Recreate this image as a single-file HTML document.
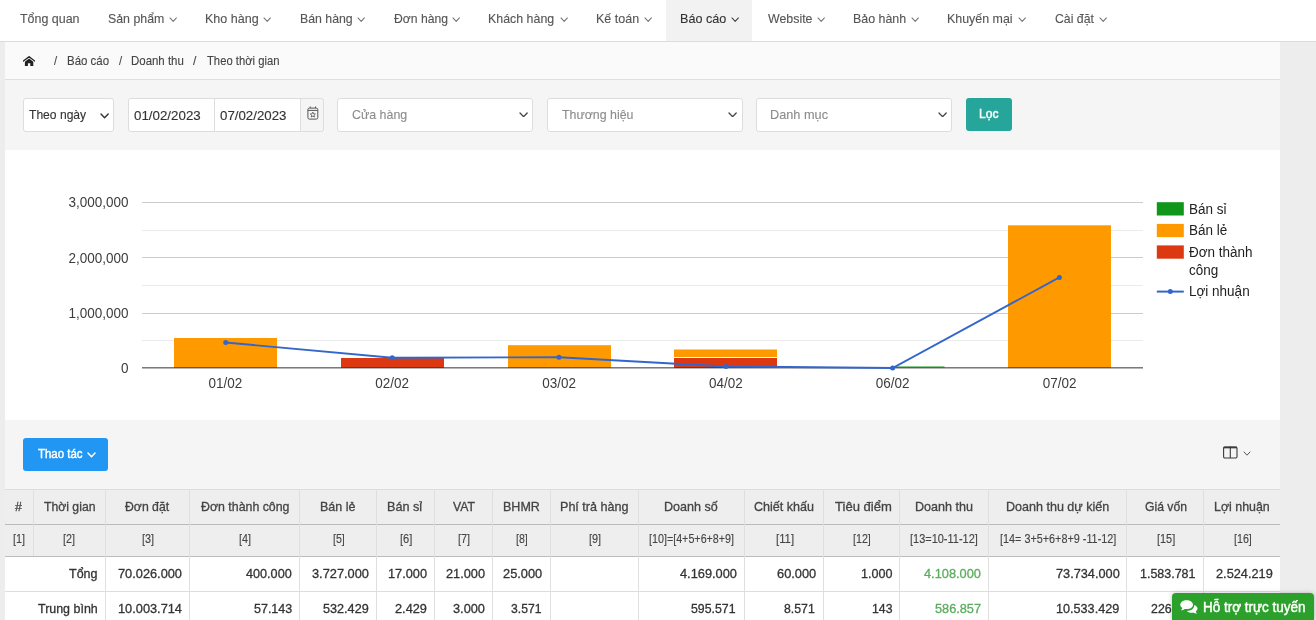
<!DOCTYPE html>
<html lang="vi">
<head>
<meta charset="utf-8">
<title>Báo cáo doanh thu theo thời gian</title>
<style>
*{box-sizing:border-box;margin:0;padding:0}
html,body{width:1316px;height:620px;overflow:hidden}
body{background:#ededed;font-family:"Liberation Sans",sans-serif;font-size:13px;color:#333;position:relative}
.abs{position:absolute}
i{display:block}
.t{-webkit-text-stroke:0.12px currentColor;position:absolute;white-space:nowrap;line-height:20px;transform-origin:0 0;display:block}
.m{-webkit-text-stroke:0.3px currentColor}
.m2{-webkit-text-stroke:0.45px currentColor}
#nav{position:absolute;left:0;top:0;width:1316px;height:42px;background:#fff;border-bottom:1px solid #dcdcdc}
#nav .act{position:absolute;left:666px;top:0;width:86px;height:41px;background:#f2f2f2}
#bc{position:absolute;left:5px;top:42px;width:1275px;height:38px;background:#fafafa;border-bottom:1px solid #e0e0e0}
#flt::before{content:"";position:absolute;left:5px;top:80px;width:1275px;height:70px;background:#f5f5f5}
.inp{position:absolute;background:#fff;border:1px solid #ddd;border-radius:3px;height:34px}
.addon{background:#f5f5f5}
.btn{position:absolute;border-radius:3px}
.teal{background:#26a69a}
.blue{background:#2196f3}
#chart::before{content:"";position:absolute;left:5px;top:150px;width:1275px;height:270px;background:#fff}
#chart svg{position:absolute;left:5px;top:150px}
#tb::before{content:"";position:absolute;left:5px;top:420px;width:1275px;height:70px;background:#f5f5f5}
#tbl::before{content:"";position:absolute;left:5px;top:490px;width:1275px;height:130px;background:#fff}
.thead{position:absolute;left:5px;top:490px;width:1275px;height:66px;background:#eeeeee}
.hl{position:absolute;left:5px;width:1275px;height:1px}
.vl{position:absolute;top:490px;width:1px;height:130px;background:#dfdfdf}
#sup{position:absolute;left:1172px;top:593px;width:142px;height:27px;background:#2ba02b;border-radius:4px 4px 0 0;box-shadow:0 0 4px rgba(0,0,0,.25)}

</style>
</head>
<body>
<div id="nav"><div class="act"></div></div>
<div id="navtxt">
<span class="t" style="left:20.00px;top:9px;font-size:13px;color:#555;transform:scaleX(0.9567)">Tổng quan</span>
<span class="t" style="left:108.25px;top:9px;font-size:13px;color:#555;transform:scaleX(0.9498)">Sản phẩm</span>
<span class="t" style="left:204.79px;top:9px;font-size:13px;color:#555;transform:scaleX(0.9645)">Kho hàng</span>
<span class="t" style="left:299.55px;top:9px;font-size:13px;color:#555;transform:scaleX(0.9461)">Bán hàng</span>
<span class="t" style="left:393.75px;top:9px;font-size:13px;color:#555;transform:scaleX(0.9357)">Đơn hàng</span>
<span class="t" style="left:488.30px;top:9px;font-size:13px;color:#555;transform:scaleX(0.9536)">Khách hàng</span>
<span class="t" style="left:595.54px;top:9px;font-size:13px;color:#555;transform:scaleX(0.9636)">Kế toán</span>
<span class="t" style="left:679.53px;top:9px;font-size:13px;color:#333;transform:scaleX(0.9683)">Báo cáo</span>
<span class="t" style="left:767.50px;top:9px;font-size:13px;color:#555;transform:scaleX(0.9517)">Website</span>
<span class="t" style="left:852.79px;top:9px;font-size:13px;color:#555;transform:scaleX(0.9553)">Bảo hành</span>
<span class="t" style="left:946.79px;top:9px;font-size:13px;color:#555;transform:scaleX(0.9556)">Khuyến mại</span>
<span class="t" style="left:1054.50px;top:9px;font-size:13px;color:#555;transform:scaleX(0.9440)">Cài đặt</span>
<svg class="abs" style="left:168.8px;top:16.6px" width="8.4" height="5.4" viewBox="-1 -1 8.4 5.4"><path d="M0 0 L3.2 3.4 L6.4 0" fill="none" stroke="#777" stroke-width="1.1" stroke-linecap="round" stroke-linejoin="round"/></svg>
<svg class="abs" style="left:263.3px;top:16.6px" width="8.4" height="5.4" viewBox="-1 -1 8.4 5.4"><path d="M0 0 L3.2 3.4 L6.4 0" fill="none" stroke="#777" stroke-width="1.1" stroke-linecap="round" stroke-linejoin="round"/></svg>
<svg class="abs" style="left:357.3px;top:16.6px" width="8.4" height="5.4" viewBox="-1 -1 8.4 5.4"><path d="M0 0 L3.2 3.4 L6.4 0" fill="none" stroke="#777" stroke-width="1.1" stroke-linecap="round" stroke-linejoin="round"/></svg>
<svg class="abs" style="left:452.05px;top:16.6px" width="8.4" height="5.4" viewBox="-1 -1 8.4 5.4"><path d="M0 0 L3.2 3.4 L6.4 0" fill="none" stroke="#777" stroke-width="1.1" stroke-linecap="round" stroke-linejoin="round"/></svg>
<svg class="abs" style="left:559.55px;top:16.6px" width="8.4" height="5.4" viewBox="-1 -1 8.4 5.4"><path d="M0 0 L3.2 3.4 L6.4 0" fill="none" stroke="#777" stroke-width="1.1" stroke-linecap="round" stroke-linejoin="round"/></svg>
<svg class="abs" style="left:643.8px;top:16.6px" width="8.4" height="5.4" viewBox="-1 -1 8.4 5.4"><path d="M0 0 L3.2 3.4 L6.4 0" fill="none" stroke="#777" stroke-width="1.1" stroke-linecap="round" stroke-linejoin="round"/></svg>
<svg class="abs" style="left:730.55px;top:16.6px" width="8.4" height="5.4" viewBox="-1 -1 8.4 5.4"><path d="M0 0 L3.2 3.4 L6.4 0" fill="none" stroke="#444" stroke-width="1.1" stroke-linecap="round" stroke-linejoin="round"/></svg>
<svg class="abs" style="left:816.8px;top:16.6px" width="8.4" height="5.4" viewBox="-1 -1 8.4 5.4"><path d="M0 0 L3.2 3.4 L6.4 0" fill="none" stroke="#777" stroke-width="1.1" stroke-linecap="round" stroke-linejoin="round"/></svg>
<svg class="abs" style="left:910.8px;top:16.6px" width="8.4" height="5.4" viewBox="-1 -1 8.4 5.4"><path d="M0 0 L3.2 3.4 L6.4 0" fill="none" stroke="#777" stroke-width="1.1" stroke-linecap="round" stroke-linejoin="round"/></svg>
<svg class="abs" style="left:1017.55px;top:16.6px" width="8.4" height="5.4" viewBox="-1 -1 8.4 5.4"><path d="M0 0 L3.2 3.4 L6.4 0" fill="none" stroke="#777" stroke-width="1.1" stroke-linecap="round" stroke-linejoin="round"/></svg>
<svg class="abs" style="left:1098.8px;top:16.6px" width="8.4" height="5.4" viewBox="-1 -1 8.4 5.4"><path d="M0 0 L3.2 3.4 L6.4 0" fill="none" stroke="#777" stroke-width="1.1" stroke-linecap="round" stroke-linejoin="round"/></svg>
</div>
<div id="bc"></div>
<div id="bctxt">
<svg class="abs" style="left:23px;top:55.5px" width="12.4" height="10.4" viewBox="0 0 12.4 10.4"><path d="M0.4 5.1 L6.1 0.7 L11.8 5.1" fill="none" stroke="#222" stroke-width="1.3" stroke-linecap="round" stroke-linejoin="miter"/><path d="M1.9 5.7 L6.1 2.4 L10.3 5.7 V10.2 H7.3 V7.3 H4.9 V10.2 H1.9 Z" fill="#222"/></svg>
<span class="t" style="left:54.25px;top:51px;font-size:13px;color:#444;transform:scaleX(0.8750)">/</span>
<span class="t" style="left:66.62px;top:51px;font-size:13px;color:#444;transform:scaleX(0.8822)">Báo cáo</span>
<span class="t" style="left:118.50px;top:51px;font-size:13px;color:#444;transform:scaleX(0.8750)">/</span>
<span class="t" style="left:131.12px;top:51px;font-size:13px;color:#444;transform:scaleX(0.8807)">Doanh thu</span>
<span class="t" style="left:193.00px;top:51px;font-size:13px;color:#444;transform:scaleX(0.9375)">/</span>
<span class="t" style="left:207.00px;top:51px;font-size:13px;color:#444;transform:scaleX(0.8657)">Theo thời gian</span>
</div>
<div id="flt">
<div class="inp" style="left:23px;top:98px;width:91px"></div>
<div class="inp" style="left:128px;top:98px;width:87px;border-radius:3px 0 0 3px"></div>
<div class="inp" style="left:214px;top:98px;width:87px;border-radius:0"></div>
<div class="inp addon" style="left:300px;top:98px;width:24px;border-radius:0 3px 3px 0"></div>
<div class="inp" style="left:337px;top:98px;width:196px"></div>
<div class="inp" style="left:547px;top:98px;width:196px"></div>
<div class="inp" style="left:756px;top:98px;width:196px"></div>
<div class="btn teal" style="left:966px;top:98px;width:46px;height:33px"></div>
<svg class="abs" style="left:306.6px;top:106.2px" width="12" height="14.5" viewBox="0 0 12 14.5"><rect x="0.9" y="2.1" width="9.9" height="11" rx="1.5" fill="none" stroke="#555" stroke-width="1"/><path d="M0.9 4.4 H10.8" stroke="#555" stroke-width="1"/><path d="M3.2 0.5 V2.1 M8.5 0.5 V2.1" stroke="#555" stroke-width="1"/><path d="M5.85 6.1 L6.6 7.8 L8.4 8 L7.1 9.2 L7.45 11 L5.85 10.1 L4.25 11 L4.6 9.2 L3.3 8 L5.1 7.8 Z" fill="none" stroke="#555" stroke-width="0.85" stroke-linejoin="round"/></svg>
<svg class="abs" style="left:99.6px;top:112.8px" width="9.2" height="5.8" viewBox="-1 -1 9.2 5.8"><path d="M0 0 L3.6 3.8 L7.2 0" fill="none" stroke="#333" stroke-width="1.4" stroke-linecap="round" stroke-linejoin="round"/></svg>
<svg class="abs" style="left:519px;top:111.6px" width="9.2" height="5.7" viewBox="-1 -1 9.2 5.7"><path d="M0 0 L3.6 3.7 L7.2 0" fill="none" stroke="#444" stroke-width="1.3" stroke-linecap="round" stroke-linejoin="round"/></svg>
<svg class="abs" style="left:728.3px;top:111.6px" width="9.2" height="5.7" viewBox="-1 -1 9.2 5.7"><path d="M0 0 L3.6 3.7 L7.2 0" fill="none" stroke="#444" stroke-width="1.3" stroke-linecap="round" stroke-linejoin="round"/></svg>
<svg class="abs" style="left:937.8px;top:111.6px" width="9.2" height="5.7" viewBox="-1 -1 9.2 5.7"><path d="M0 0 L3.6 3.7 L7.2 0" fill="none" stroke="#444" stroke-width="1.3" stroke-linecap="round" stroke-linejoin="round"/></svg>
<span class="t" style="left:29.00px;top:105px;font-size:13px;color:#333;transform:scaleX(0.9300)">Theo ngày</span>
<span class="t" style="left:133.50px;top:106px;font-size:13px;color:#333;transform:scaleX(1.0257)">01/02/2023</span>
<span class="t" style="left:220.00px;top:106px;font-size:13px;color:#333;transform:scaleX(1.0218)">07/02/2023</span>
<span class="t" style="left:352.00px;top:105px;font-size:13px;color:#8c8c8c;transform:scaleX(0.9545)">Cửa hàng</span>
<span class="t" style="left:562.00px;top:105px;font-size:13px;color:#8c8c8c;transform:scaleX(0.9523)">Thương hiệu</span>
<span class="t" style="left:770.27px;top:105px;font-size:13px;color:#8c8c8c;transform:scaleX(0.9787)">Danh mục</span>
<span class="t m2" style="left:978.67px;top:104px;font-size:13px;color:#fff;transform:scaleX(0.9286)">Lọc</span>
</div>
<div id="chart">
<svg width="1275" height="270" viewBox="5 150 1275 270" font-family="Liberation Sans, sans-serif" font-size="14">
<rect x="5" y="150" width="1275" height="270" fill="#fff"/>
<rect x="142" y="230" width="1001" height="1" fill="#ebebeb"/>
<rect x="142" y="285" width="1001" height="1" fill="#ebebeb"/>
<rect x="142" y="340" width="1001" height="1" fill="#ebebeb"/>
<rect x="142" y="202" width="1001" height="1" fill="#ccc"/>
<rect x="142" y="257" width="1001" height="1" fill="#ccc"/>
<rect x="142" y="313" width="1001" height="1" fill="#ccc"/>
<rect x="174" y="338" width="103" height="30" fill="#ff9900"/>
<rect x="341" y="358" width="103" height="10" fill="#dc3912"/>
<rect x="508" y="345.2" width="103" height="22.80000000000001" fill="#ff9900"/>
<rect x="674" y="358" width="103" height="10" fill="#dc3912"/>
<rect x="674" y="349.5" width="103" height="7.5" fill="#ff9900"/>
<rect x="893" y="366.5" width="51.5" height="1" fill="#109618"/>
<rect x="1008" y="225.3" width="103" height="142.7" fill="#ff9900"/>
<rect x="142" y="367.35" width="1001" height="1" fill="#333"/>
<path d="M225.75 342.5 L392.2 357.75 L559 357.25 L726 366.5 L892.6 368 L1059.4 277.4" fill="none" stroke="#3366cc" stroke-width="1.9"/>
<circle cx="225.75" cy="342.5" r="2.5" fill="#3366cc"/>
<circle cx="392.2" cy="357.75" r="2.5" fill="#3366cc"/>
<circle cx="559" cy="357.25" r="2.5" fill="#3366cc"/>
<circle cx="726" cy="366.5" r="2.5" fill="#3366cc"/>
<circle cx="892.6" cy="368" r="2.5" fill="#3366cc"/>
<circle cx="1059.4" cy="277.4" r="2.5" fill="#3366cc"/>
<text transform="translate(128.6,207) scale(0.964,1)" text-anchor="end" fill="#3c3c3c">3,000,000</text>
<text transform="translate(128.6,263) scale(0.964,1)" text-anchor="end" fill="#3c3c3c">2,000,000</text>
<text transform="translate(128.6,318) scale(0.964,1)" text-anchor="end" fill="#3c3c3c">1,000,000</text>
<text transform="translate(128.6,373) scale(0.964,1)" text-anchor="end" fill="#3c3c3c">0</text>
<text transform="translate(225.4,388) scale(0.964,1)" text-anchor="middle" fill="#3c3c3c">01/02</text>
<text transform="translate(392.2,388) scale(0.964,1)" text-anchor="middle" fill="#3c3c3c">02/02</text>
<text transform="translate(559.1,388) scale(0.964,1)" text-anchor="middle" fill="#3c3c3c">03/02</text>
<text transform="translate(725.9,388) scale(0.964,1)" text-anchor="middle" fill="#3c3c3c">04/02</text>
<text transform="translate(892.7,388) scale(0.964,1)" text-anchor="middle" fill="#3c3c3c">06/02</text>
<text transform="translate(1059.6,388) scale(0.964,1)" text-anchor="middle" fill="#3c3c3c">07/02</text>
<rect x="1156.8" y="202.2" width="27" height="13.3" fill="#109618"/>
<rect x="1156.8" y="223.9" width="27" height="13.2" fill="#ff9900"/>
<rect x="1156.8" y="245.4" width="27" height="13.3" fill="#dc3912"/>
<path d="M1156.8 291.6 H1183.8" stroke="#3366cc" stroke-width="2"/><circle cx="1170.3" cy="291.6" r="2.5" fill="#3366cc"/>
<text transform="translate(1189,214) scale(0.964,1)" fill="#222">Bán sỉ</text>
<text transform="translate(1189,235) scale(0.964,1)" fill="#222">Bán lẻ</text>
<text transform="translate(1189,257) scale(0.964,1)" fill="#222">Đơn thành</text>
<text transform="translate(1189,274.5) scale(0.964,1)" fill="#222">công</text>
<text transform="translate(1189,296) scale(0.964,1)" fill="#222">Lợi nhuận</text>
</svg>
</div>
<div id="tb">
<div class="btn blue" style="left:23px;top:438px;width:85px;height:33px"></div>
<svg class="abs" style="left:87px;top:451.8px" width="9" height="5.8" viewBox="-1 -1 9 5.8"><path d="M0 0 L3.5 3.8 L7 0" fill="none" stroke="#fff" stroke-width="1.5" stroke-linecap="round" stroke-linejoin="round"/></svg>
<svg class="abs" style="left:1223px;top:446.4px" width="14.6" height="12.6" viewBox="0 0 14.6 12.6"><rect x="0.6" y="1" width="13.4" height="11" rx="1.2" fill="none" stroke="#3a3a3a" stroke-width="1.1"/><path d="M0.6 1.5 H14" stroke="#3a3a3a" stroke-width="1.7"/><path d="M7.3 0.6 V12" stroke="#3a3a3a" stroke-width="1.1"/></svg>
<svg class="abs" style="left:1242.7px;top:451.3px" width="8" height="5.2" viewBox="-1 -1 8 5.2"><path d="M0 0 L3.0 3.2 L6 0" fill="none" stroke="#555" stroke-width="1.0" stroke-linecap="round" stroke-linejoin="round"/></svg>
<span class="t m2" style="left:37.50px;top:444px;font-size:13px;color:#fff;transform:scaleX(0.8809)">Thao tác</span>
</div>
<div id="tbl">
<div class="thead"></div>
<i class="hl" style="top:489px;background:#ddd"></i>
<i class="hl" style="top:524px;background:#bbb"></i>
<i class="hl" style="top:556px;background:#bbb"></i>
<i class="hl" style="top:591px;background:#ddd"></i>
<i class="vl" style="left:33px;height:66px"></i>
<i class="vl" style="left:105px"></i>
<i class="vl" style="left:189px"></i>
<i class="vl" style="left:299px"></i>
<i class="vl" style="left:376px"></i>
<i class="vl" style="left:434px"></i>
<i class="vl" style="left:492px"></i>
<i class="vl" style="left:550px"></i>
<i class="vl" style="left:638px"></i>
<i class="vl" style="left:744px"></i>
<i class="vl" style="left:823px"></i>
<i class="vl" style="left:899px"></i>
<i class="vl" style="left:988px"></i>
<i class="vl" style="left:1126px"></i>
<i class="vl" style="left:1203px"></i>
<span class="t m" style="left:15.20px;top:497px;font-size:13px;color:#444;transform:scaleX(0.9500)">#</span>
<span class="t m" style="left:44.00px;top:497px;font-size:13px;color:#444;transform:scaleX(0.9396)">Thời gian</span>
<span class="t m" style="left:125.00px;top:497px;font-size:13px;color:#444;transform:scaleX(0.9425)">Đơn đặt</span>
<span class="t m" style="left:200.50px;top:497px;font-size:13px;color:#444;transform:scaleX(0.9504)">Đơn thành công</span>
<span class="t m" style="left:320.29px;top:497px;font-size:13px;color:#444;transform:scaleX(0.9612)">Bán lẻ</span>
<span class="t m" style="left:387.28px;top:497px;font-size:13px;color:#444;transform:scaleX(0.9718)">Bán sỉ</span>
<span class="t m" style="left:452.50px;top:497px;font-size:13px;color:#444;transform:scaleX(0.9397)">VAT</span>
<span class="t m" style="left:502.79px;top:497px;font-size:13px;color:#444;transform:scaleX(0.9624)">BHMR</span>
<span class="t m" style="left:559.78px;top:497px;font-size:13px;color:#444;transform:scaleX(0.9663)">Phí trả hàng</span>
<span class="t m" style="left:664.04px;top:497px;font-size:13px;color:#444;transform:scaleX(0.9647)">Doanh số</span>
<span class="t m" style="left:754.25px;top:497px;font-size:13px;color:#444;transform:scaleX(0.9650)">Chiết khấu</span>
<span class="t m" style="left:834.50px;top:497px;font-size:13px;color:#444;transform:scaleX(1.0042)">Tiêu điểm</span>
<span class="t m" style="left:914.78px;top:497px;font-size:13px;color:#444;transform:scaleX(0.9658)">Doanh thu</span>
<span class="t m" style="left:1005.79px;top:497px;font-size:13px;color:#444;transform:scaleX(0.9644)">Doanh thu dự kiến</span>
<span class="t m" style="left:1144.60px;top:497px;font-size:13px;color:#444;transform:scaleX(0.9378)">Giá vốn</span>
<span class="t m" style="left:1214.05px;top:497px;font-size:13px;color:#444;transform:scaleX(0.9550)">Lợi nhuận</span>
<span class="t" style="left:13.00px;top:529px;font-size:12px;color:#444;transform:scaleX(0.9033)">[1]</span>
<span class="t" style="left:63.25px;top:529px;font-size:12px;color:#444;transform:scaleX(0.9033)">[2]</span>
<span class="t" style="left:141.50px;top:529px;font-size:12px;color:#444;transform:scaleX(0.9033)">[3]</span>
<span class="t" style="left:238.75px;top:529px;font-size:12px;color:#444;transform:scaleX(0.9033)">[4]</span>
<span class="t" style="left:332.50px;top:529px;font-size:12px;color:#444;transform:scaleX(0.8841)">[5]</span>
<span class="t" style="left:399.50px;top:529px;font-size:12px;color:#444;transform:scaleX(0.9225)">[6]</span>
<span class="t" style="left:457.50px;top:529px;font-size:12px;color:#444;transform:scaleX(0.9033)">[7]</span>
<span class="t" style="left:515.50px;top:529px;font-size:12px;color:#444;transform:scaleX(0.8841)">[8]</span>
<span class="t" style="left:588.60px;top:529px;font-size:12px;color:#444;transform:scaleX(0.9071)">[9]</span>
<span class="t" style="left:649.00px;top:529px;font-size:12px;color:#444;transform:scaleX(0.8944)">[10]=[4+5+6+8+9]</span>
<span class="t" style="left:775.50px;top:529px;font-size:12px;color:#444;transform:scaleX(0.9446)">[11]</span>
<span class="t" style="left:853.25px;top:529px;font-size:12px;color:#444;transform:scaleX(0.8892)">[12]</span>
<span class="t" style="left:910.00px;top:529px;font-size:12px;color:#444;transform:scaleX(0.9142)">[13=10-11-12]</span>
<span class="t" style="left:999.50px;top:529px;font-size:12px;color:#444;transform:scaleX(0.9023)">[14= 3+5+6+8+9 -11-12]</span>
<span class="t" style="left:1156.60px;top:529px;font-size:12px;color:#444;transform:scaleX(0.9095)">[15]</span>
<span class="t" style="left:1233.50px;top:529px;font-size:12px;color:#444;transform:scaleX(0.8892)">[16]</span>
<span class="t m" style="left:69.25px;top:564px;font-size:13px;color:#333;transform:scaleX(0.9609)">Tổng</span>
<span class="t m" style="left:118.00px;top:564px;font-size:13px;color:#333;transform:scaleX(0.9833)">70.026.000</span>
<span class="t m" style="left:246.25px;top:564px;font-size:13px;color:#333;transform:scaleX(0.9730)">400.000</span>
<span class="t m" style="left:312.00px;top:564px;font-size:13px;color:#333;transform:scaleX(0.9852)">3.727.000</span>
<span class="t m" style="left:388.00px;top:564px;font-size:13px;color:#333;transform:scaleX(0.9802)">17.000</span>
<span class="t m" style="left:445.50px;top:564px;font-size:13px;color:#333;transform:scaleX(0.9802)">21.000</span>
<span class="t m" style="left:503.25px;top:564px;font-size:13px;color:#333;transform:scaleX(0.9865)">25.000</span>
<span class="t m" style="left:679.50px;top:564px;font-size:13px;color:#333;transform:scaleX(0.9852)">4.169.000</span>
<span class="t m" style="left:777.00px;top:564px;font-size:13px;color:#333;transform:scaleX(0.9865)">60.000</span>
<span class="t m" style="left:860.75px;top:564px;font-size:13px;color:#333;transform:scaleX(0.9674)">1.000</span>
<span class="t m" style="left:923.75px;top:564px;font-size:13px;color:#5aac5e;transform:scaleX(0.9852)">4.108.000</span>
<span class="t m" style="left:1055.75px;top:564px;font-size:13px;color:#333;transform:scaleX(0.9794)">73.734.000</span>
<span class="t m" style="left:1139.80px;top:564px;font-size:13px;color:#333;transform:scaleX(0.9583)">1.583.781</span>
<span class="t m" style="left:1215.80px;top:564px;font-size:13px;color:#333;transform:scaleX(0.9826)">2.524.219</span>
<span class="t m" style="left:38.00px;top:599px;font-size:13px;color:#333;transform:scaleX(0.9572)">Trung bình</span>
<span class="t m" style="left:118.00px;top:599px;font-size:13px;color:#333;transform:scaleX(0.9833)">10.003.714</span>
<span class="t m" style="left:253.75px;top:599px;font-size:13px;color:#333;transform:scaleX(0.9613)">57.143</span>
<span class="t m" style="left:323.25px;top:599px;font-size:13px;color:#333;transform:scaleX(0.9730)">532.429</span>
<span class="t m" style="left:395.00px;top:599px;font-size:13px;color:#333;transform:scaleX(0.9829)">2.429</span>
<span class="t m" style="left:452.50px;top:599px;font-size:13px;color:#333;transform:scaleX(0.9829)">3.000</span>
<span class="t m" style="left:510.50px;top:599px;font-size:13px;color:#333;transform:scaleX(0.9365)">3.571</span>
<span class="t m" style="left:690.75px;top:599px;font-size:13px;color:#333;transform:scaleX(0.9463)">595.571</span>
<span class="t m" style="left:784.25px;top:599px;font-size:13px;color:#333;transform:scaleX(0.9442)">8.571</span>
<span class="t m" style="left:871.75px;top:599px;font-size:13px;color:#333;transform:scaleX(0.9436)">143</span>
<span class="t m" style="left:934.75px;top:599px;font-size:13px;color:#5aac5e;transform:scaleX(0.9784)">586.857</span>
<span class="t m" style="left:1056.25px;top:599px;font-size:13px;color:#333;transform:scaleX(0.9717)">10.533.429</span>
<span class="t m" style="left:1150.50px;top:599px;font-size:13px;color:#333;transform:scaleX(0.9516)">226.254</span>
<span class="t m" style="left:1228.00px;top:599px;font-size:13px;color:#333;transform:scaleX(0.9495)">360.603</span>
</div>
<div id="sup">
<svg class="abs" style="left:7.6px;top:6.6px" width="18" height="14" viewBox="0 0 18 14"><path d="M6.6 0.3 C10.2 0.3 13 2.2 13 4.7 C13 7.2 10.2 9.1 6.6 9.1 C6 9.1 5.4 9 4.8 8.9 C3.8 9.7 2.4 10.2 0.8 10.2 C1.6 9.5 2.1 8.7 2.3 7.9 C1 7.1 0.3 6 0.3 4.7 C0.3 2.2 3 0.3 6.6 0.3 Z" fill="#fff"/><path d="M14.2 5 C16 5.6 17.5 6.9 17.5 8.6 C17.5 9.8 16.8 10.8 15.7 11.6 C15.9 12.3 16.4 13 17.1 13.7 C15.6 13.7 14.3 13.2 13.3 12.5 C12.7 12.6 12.1 12.7 11.5 12.7 C9.5 12.7 7.8 12 6.8 10.9 C7 10.9 10.4 10.8 12.4 9.2 C13.6 8.2 14.3 6.7 14.2 5 Z" fill="#fff"/></svg>
</div>
<span class="t m2" style="left:1203.00px;top:597px;font-size:15px;color:#fff;transform:scaleX(0.8995)">Hỗ trợ trực tuyến</span>
</body>
</html>
